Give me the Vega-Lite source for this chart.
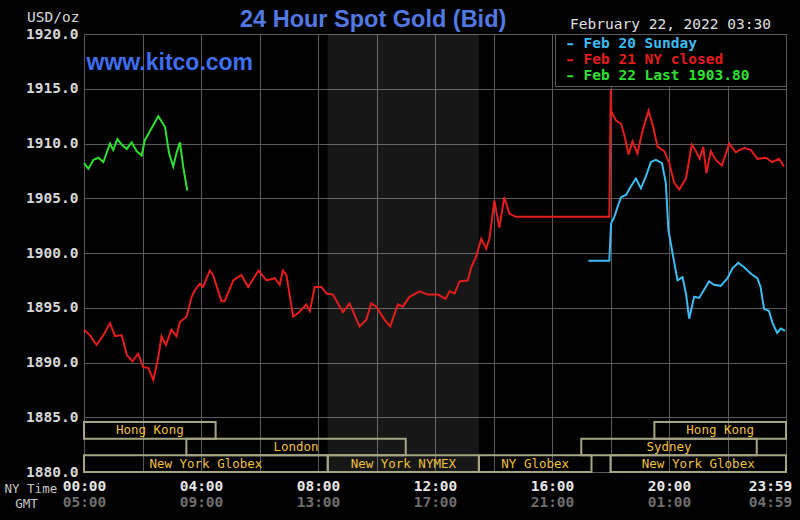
{
  "$schema": "https://vega.github.io/schema/vega-lite/v6.json",
  "width": 702,
  "height": 438,
  "autosize": "none",
  "padding": {"left": 84, "top": 34, "right": 14, "bottom": 48},
  "background": "#000000",
  "title": {"text": "24 Hour Spot Gold (Bid)", "anchor": "start", "frame": "group", "dx": 156, "dy": 26, "color": "#5278e2", "font": "Liberation Sans", "fontSize": 23.5, "fontWeight": "bold", "offset": 4},
  "config": {"view": {"stroke": null}, "axis": {"gridColor": "#5a5a5a", "gridWidth": 1, "domain": false, "ticks": false, "tickSize": 0}},
  "resolve": {"scale": {"y": "independent"}, "axis": {"x": "independent", "y": "independent"}},
  "datasets": {
    "shade": [{"session": "New York NYMEX", "start": 8.333, "end": 13.5}],
    "bands": [
      {"row": 1, "start": 0, "end": 4.5, "label": "Hong Kong"},
      {"row": 1, "start": 19.5, "end": 24, "label": "Hong Kong"},
      {"row": 2, "start": 3.5, "end": 11, "label": "London"},
      {"row": 2, "start": 17, "end": 23, "label": "Sydney"},
      {"row": 3, "start": 0, "end": 8.333, "label": "New York Globex"},
      {"row": 3, "start": 8.333, "end": 13.5, "label": "New York NYMEX"},
      {"row": 3, "start": 13.5, "end": 17.35, "label": "NY Globex"},
      {"row": 3, "start": 18, "end": 24, "label": "New York Globex"}
    ],
    "prices": [
      {"series": "Feb 22 Last 1903.80", "hour": 0.00, "price": 1908.2},
      {"series": "Feb 22 Last 1903.80", "hour": 0.15, "price": 1907.7},
      {"series": "Feb 22 Last 1903.80", "hour": 0.32, "price": 1908.5},
      {"series": "Feb 22 Last 1903.80", "hour": 0.49, "price": 1908.7},
      {"series": "Feb 22 Last 1903.80", "hour": 0.66, "price": 1908.3},
      {"series": "Feb 22 Last 1903.80", "hour": 0.89, "price": 1910.0},
      {"series": "Feb 22 Last 1903.80", "hour": 1.00, "price": 1909.4},
      {"series": "Feb 22 Last 1903.80", "hour": 1.14, "price": 1910.4},
      {"series": "Feb 22 Last 1903.80", "hour": 1.29, "price": 1909.9},
      {"series": "Feb 22 Last 1903.80", "hour": 1.46, "price": 1909.5},
      {"series": "Feb 22 Last 1903.80", "hour": 1.63, "price": 1910.1},
      {"series": "Feb 22 Last 1903.80", "hour": 1.80, "price": 1909.3},
      {"series": "Feb 22 Last 1903.80", "hour": 1.97, "price": 1908.9},
      {"series": "Feb 22 Last 1903.80", "hour": 2.08, "price": 1910.3},
      {"series": "Feb 22 Last 1903.80", "hour": 2.31, "price": 1911.4},
      {"series": "Feb 22 Last 1903.80", "hour": 2.54, "price": 1912.5},
      {"series": "Feb 22 Last 1903.80", "hour": 2.77, "price": 1911.5},
      {"series": "Feb 22 Last 1903.80", "hour": 2.91, "price": 1909.1},
      {"series": "Feb 22 Last 1903.80", "hour": 3.05, "price": 1907.9},
      {"series": "Feb 22 Last 1903.80", "hour": 3.16, "price": 1909.1},
      {"series": "Feb 22 Last 1903.80", "hour": 3.28, "price": 1910.1},
      {"series": "Feb 22 Last 1903.80", "hour": 3.39, "price": 1907.9},
      {"series": "Feb 22 Last 1903.80", "hour": 3.53, "price": 1905.7},
      {"series": "Feb 21 NY closed", "hour": 0.00, "price": 1893.0},
      {"series": "Feb 21 NY closed", "hour": 0.20, "price": 1892.5},
      {"series": "Feb 21 NY closed", "hour": 0.43, "price": 1891.6},
      {"series": "Feb 21 NY closed", "hour": 0.66, "price": 1892.5},
      {"series": "Feb 21 NY closed", "hour": 0.89, "price": 1893.6},
      {"series": "Feb 21 NY closed", "hour": 1.06, "price": 1892.4},
      {"series": "Feb 21 NY closed", "hour": 1.29, "price": 1892.5},
      {"series": "Feb 21 NY closed", "hour": 1.46, "price": 1890.7},
      {"series": "Feb 21 NY closed", "hour": 1.66, "price": 1890.1},
      {"series": "Feb 21 NY closed", "hour": 1.85, "price": 1890.8},
      {"series": "Feb 21 NY closed", "hour": 2.02, "price": 1889.6},
      {"series": "Feb 21 NY closed", "hour": 2.20, "price": 1889.5},
      {"series": "Feb 21 NY closed", "hour": 2.37, "price": 1888.4},
      {"series": "Feb 21 NY closed", "hour": 2.54, "price": 1890.5},
      {"series": "Feb 21 NY closed", "hour": 2.65, "price": 1892.4},
      {"series": "Feb 21 NY closed", "hour": 2.80, "price": 1891.6},
      {"series": "Feb 21 NY closed", "hour": 2.99, "price": 1893.0},
      {"series": "Feb 21 NY closed", "hour": 3.16, "price": 1892.4},
      {"series": "Feb 21 NY closed", "hour": 3.28, "price": 1893.7},
      {"series": "Feb 21 NY closed", "hour": 3.51, "price": 1894.2},
      {"series": "Feb 21 NY closed", "hour": 3.68, "price": 1896.0},
      {"series": "Feb 21 NY closed", "hour": 3.79, "price": 1896.6},
      {"series": "Feb 21 NY closed", "hour": 3.96, "price": 1897.2},
      {"series": "Feb 21 NY closed", "hour": 4.07, "price": 1896.9},
      {"series": "Feb 21 NY closed", "hour": 4.30, "price": 1898.4},
      {"series": "Feb 21 NY closed", "hour": 4.41, "price": 1898.0},
      {"series": "Feb 21 NY closed", "hour": 4.70, "price": 1895.6},
      {"series": "Feb 21 NY closed", "hour": 4.81, "price": 1895.6},
      {"series": "Feb 21 NY closed", "hour": 5.10, "price": 1897.5},
      {"series": "Feb 21 NY closed", "hour": 5.38, "price": 1898.0},
      {"series": "Feb 21 NY closed", "hour": 5.61, "price": 1896.9},
      {"series": "Feb 21 NY closed", "hour": 5.97, "price": 1898.4},
      {"series": "Feb 21 NY closed", "hour": 6.24, "price": 1897.5},
      {"series": "Feb 21 NY closed", "hour": 6.52, "price": 1897.7},
      {"series": "Feb 21 NY closed", "hour": 6.69, "price": 1897.1},
      {"series": "Feb 21 NY closed", "hour": 6.80, "price": 1898.4},
      {"series": "Feb 21 NY closed", "hour": 6.92, "price": 1898.0},
      {"series": "Feb 21 NY closed", "hour": 7.15, "price": 1894.2},
      {"series": "Feb 21 NY closed", "hour": 7.32, "price": 1894.5},
      {"series": "Feb 21 NY closed", "hour": 7.60, "price": 1895.3},
      {"series": "Feb 21 NY closed", "hour": 7.72, "price": 1894.7},
      {"series": "Feb 21 NY closed", "hour": 7.89, "price": 1896.9},
      {"series": "Feb 21 NY closed", "hour": 8.12, "price": 1896.9},
      {"series": "Feb 21 NY closed", "hour": 8.29, "price": 1896.3},
      {"series": "Feb 21 NY closed", "hour": 8.51, "price": 1896.2},
      {"series": "Feb 21 NY closed", "hour": 8.85, "price": 1894.6},
      {"series": "Feb 21 NY closed", "hour": 9.08, "price": 1895.4},
      {"series": "Feb 21 NY closed", "hour": 9.42, "price": 1893.3},
      {"series": "Feb 21 NY closed", "hour": 9.65, "price": 1893.9},
      {"series": "Feb 21 NY closed", "hour": 9.82, "price": 1895.4},
      {"series": "Feb 21 NY closed", "hour": 9.99, "price": 1895.1},
      {"series": "Feb 21 NY closed", "hour": 10.28, "price": 1893.9},
      {"series": "Feb 21 NY closed", "hour": 10.47, "price": 1893.3},
      {"series": "Feb 21 NY closed", "hour": 10.73, "price": 1895.3},
      {"series": "Feb 21 NY closed", "hour": 10.90, "price": 1895.1},
      {"series": "Feb 21 NY closed", "hour": 11.13, "price": 1896.0},
      {"series": "Feb 21 NY closed", "hour": 11.47, "price": 1896.5},
      {"series": "Feb 21 NY closed", "hour": 11.75, "price": 1896.2},
      {"series": "Feb 21 NY closed", "hour": 12.10, "price": 1896.2},
      {"series": "Feb 21 NY closed", "hour": 12.36, "price": 1895.8},
      {"series": "Feb 21 NY closed", "hour": 12.50, "price": 1896.5},
      {"series": "Feb 21 NY closed", "hour": 12.67, "price": 1896.3},
      {"series": "Feb 21 NY closed", "hour": 12.84, "price": 1897.4},
      {"series": "Feb 21 NY closed", "hour": 13.12, "price": 1897.5},
      {"series": "Feb 21 NY closed", "hour": 13.24, "price": 1898.7},
      {"series": "Feb 21 NY closed", "hour": 13.41, "price": 1899.7},
      {"series": "Feb 21 NY closed", "hour": 13.58, "price": 1901.3},
      {"series": "Feb 21 NY closed", "hour": 13.75, "price": 1900.4},
      {"series": "Feb 21 NY closed", "hour": 13.86, "price": 1901.3},
      {"series": "Feb 21 NY closed", "hour": 14.03, "price": 1904.8},
      {"series": "Feb 21 NY closed", "hour": 14.20, "price": 1902.3},
      {"series": "Feb 21 NY closed", "hour": 14.37, "price": 1905.1},
      {"series": "Feb 21 NY closed", "hour": 14.54, "price": 1903.6},
      {"series": "Feb 21 NY closed", "hour": 14.77, "price": 1903.3},
      {"series": "Feb 21 NY closed", "hour": 17.96, "price": 1903.3},
      {"series": "Feb 21 NY closed", "hour": 18.01, "price": 1914.9},
      {"series": "Feb 21 NY closed", "hour": 18.03, "price": 1912.9},
      {"series": "Feb 21 NY closed", "hour": 18.19, "price": 1912.1},
      {"series": "Feb 21 NY closed", "hour": 18.36, "price": 1911.8},
      {"series": "Feb 21 NY closed", "hour": 18.47, "price": 1910.8},
      {"series": "Feb 21 NY closed", "hour": 18.62, "price": 1909.0},
      {"series": "Feb 21 NY closed", "hour": 18.75, "price": 1910.2},
      {"series": "Feb 21 NY closed", "hour": 18.92, "price": 1909.1},
      {"series": "Feb 21 NY closed", "hour": 19.10, "price": 1911.2},
      {"series": "Feb 21 NY closed", "hour": 19.30, "price": 1913.0},
      {"series": "Feb 21 NY closed", "hour": 19.46, "price": 1911.5},
      {"series": "Feb 21 NY closed", "hour": 19.61, "price": 1909.7},
      {"series": "Feb 21 NY closed", "hour": 19.84, "price": 1909.3},
      {"series": "Feb 21 NY closed", "hour": 20.01, "price": 1908.2},
      {"series": "Feb 21 NY closed", "hour": 20.18, "price": 1906.4},
      {"series": "Feb 21 NY closed", "hour": 20.35, "price": 1905.8},
      {"series": "Feb 21 NY closed", "hour": 20.58, "price": 1906.8},
      {"series": "Feb 21 NY closed", "hour": 20.78, "price": 1909.9},
      {"series": "Feb 21 NY closed", "hour": 20.92, "price": 1909.3},
      {"series": "Feb 21 NY closed", "hour": 21.05, "price": 1908.6},
      {"series": "Feb 21 NY closed", "hour": 21.17, "price": 1909.7},
      {"series": "Feb 21 NY closed", "hour": 21.28, "price": 1907.3},
      {"series": "Feb 21 NY closed", "hour": 21.43, "price": 1909.3},
      {"series": "Feb 21 NY closed", "hour": 21.60, "price": 1908.5},
      {"series": "Feb 21 NY closed", "hour": 21.81, "price": 1908.0},
      {"series": "Feb 21 NY closed", "hour": 22.06, "price": 1910.0},
      {"series": "Feb 21 NY closed", "hour": 22.28, "price": 1909.2},
      {"series": "Feb 21 NY closed", "hour": 22.57, "price": 1909.6},
      {"series": "Feb 21 NY closed", "hour": 22.80, "price": 1909.4},
      {"series": "Feb 21 NY closed", "hour": 23.02, "price": 1908.6},
      {"series": "Feb 21 NY closed", "hour": 23.31, "price": 1908.7},
      {"series": "Feb 21 NY closed", "hour": 23.53, "price": 1908.3},
      {"series": "Feb 21 NY closed", "hour": 23.76, "price": 1908.6},
      {"series": "Feb 21 NY closed", "hour": 23.93, "price": 1907.9},
      {"series": "Feb 20 Sunday", "hour": 17.24, "price": 1899.3},
      {"series": "Feb 20 Sunday", "hour": 17.96, "price": 1899.3},
      {"series": "Feb 20 Sunday", "hour": 18.02, "price": 1902.7},
      {"series": "Feb 20 Sunday", "hour": 18.13, "price": 1903.3},
      {"series": "Feb 20 Sunday", "hour": 18.24, "price": 1904.2},
      {"series": "Feb 20 Sunday", "hour": 18.36, "price": 1905.1},
      {"series": "Feb 20 Sunday", "hour": 18.53, "price": 1905.3},
      {"series": "Feb 20 Sunday", "hour": 18.70, "price": 1906.1},
      {"series": "Feb 20 Sunday", "hour": 18.87, "price": 1906.8},
      {"series": "Feb 20 Sunday", "hour": 19.04, "price": 1905.9},
      {"series": "Feb 20 Sunday", "hour": 19.21, "price": 1907.0},
      {"series": "Feb 20 Sunday", "hour": 19.38, "price": 1908.3},
      {"series": "Feb 20 Sunday", "hour": 19.55, "price": 1908.5},
      {"series": "Feb 20 Sunday", "hour": 19.76, "price": 1908.2},
      {"series": "Feb 20 Sunday", "hour": 19.89, "price": 1906.4},
      {"series": "Feb 20 Sunday", "hour": 19.98, "price": 1902.1},
      {"series": "Feb 20 Sunday", "hour": 20.12, "price": 1900.0},
      {"series": "Feb 20 Sunday", "hour": 20.29, "price": 1897.5},
      {"series": "Feb 20 Sunday", "hour": 20.46, "price": 1897.8},
      {"series": "Feb 20 Sunday", "hour": 20.58, "price": 1896.3},
      {"series": "Feb 20 Sunday", "hour": 20.69, "price": 1894.0},
      {"series": "Feb 20 Sunday", "hour": 20.86, "price": 1896.0},
      {"series": "Feb 20 Sunday", "hour": 21.03, "price": 1895.9},
      {"series": "Feb 20 Sunday", "hour": 21.37, "price": 1897.4},
      {"series": "Feb 20 Sunday", "hour": 21.54, "price": 1897.1},
      {"series": "Feb 20 Sunday", "hour": 21.77, "price": 1897.0},
      {"series": "Feb 20 Sunday", "hour": 22.00, "price": 1897.7},
      {"series": "Feb 20 Sunday", "hour": 22.17, "price": 1898.6},
      {"series": "Feb 20 Sunday", "hour": 22.37, "price": 1899.1},
      {"series": "Feb 20 Sunday", "hour": 22.57, "price": 1898.7},
      {"series": "Feb 20 Sunday", "hour": 22.80, "price": 1898.1},
      {"series": "Feb 20 Sunday", "hour": 23.02, "price": 1897.7},
      {"series": "Feb 20 Sunday", "hour": 23.13, "price": 1896.9},
      {"series": "Feb 20 Sunday", "hour": 23.25, "price": 1894.9},
      {"series": "Feb 20 Sunday", "hour": 23.42, "price": 1894.7},
      {"series": "Feb 20 Sunday", "hour": 23.54, "price": 1893.6},
      {"series": "Feb 20 Sunday", "hour": 23.70, "price": 1892.7},
      {"series": "Feb 20 Sunday", "hour": 23.82, "price": 1893.1},
      {"series": "Feb 20 Sunday", "hour": 23.97, "price": 1892.9}
    ]
  },
  "layer": [
    {
      "data": {"name": "shade"},
      "mark": {"type": "rect", "fill": "#ffffff", "fillOpacity": 0.09},
      "encoding": {
        "x": {
          "field": "start", "type": "quantitative",
          "scale": {"domain": [0, 24], "nice": false, "zero": false},
          "axis": {
            "orient": "bottom", "values": [0, 2, 4, 6, 8, 10, 12, 14, 16, 18, 20, 22, 24], "grid": true,
            "labelExpr": "datum.value == 24 ? '23:59' : (datum.value % 4 == 0 ? (datum.value < 10 ? '0' : '') + datum.value + ':00' : '')",
            "labelColor": "#e6e6e6", "labelFont": "DejaVu Sans Mono", "labelFontSize": 14.5, "labelFontWeight": "bold",
            "labelPadding": 7, "labelOverlap": false, "labelBound": false, "labelFlush": false,
            "labelOffset": {"condition": {"test": "datum.value == 24", "value": -16}, "value": 0},
            "title": "NY Time", "titleX": -80, "titleY": 16, "titleAlign": "left", "titleBaseline": "middle", "titleAngle": 0,
            "titleColor": "#c8c8c8", "titleFont": "DejaVu Sans Mono", "titleFontSize": 12.5, "titleFontWeight": "normal"
          }
        },
        "x2": {"field": "end"}
      }
    },
    {
      "data": {"name": "bands"},
      "mark": {"type": "rect", "fill": "#000000", "fillOpacity": 0, "stroke": "#a5a582", "strokeWidth": 2},
      "encoding": {
        "x": {
          "field": "start", "type": "quantitative",
          "axis": {
            "orient": "top", "labels": false, "grid": false,
            "title": "February 22, 2022 03:30", "titleX": 586, "titleY": -10, "titleAlign": "center", "titleBaseline": "middle", "titleAngle": 0,
            "titleColor": "#e0e0e0", "titleFont": "DejaVu Sans Mono", "titleFontSize": 14.5, "titleFontWeight": "normal"
          }
        },
        "x2": {"field": "end"},
        "y": {
          "field": "row", "type": "ordinal",
          "scale": {"domain": [1, 2, 3], "range": [388, 438], "paddingInner": 0, "paddingOuter": 0},
          "axis": {
            "orient": "left", "labels": false, "grid": false,
            "title": "www.kitco.com", "titleX": 2, "titleY": 28, "titleAlign": "left", "titleBaseline": "middle", "titleAngle": 0,
            "titleColor": "#3f6ff0", "titleFont": "Liberation Sans", "titleFontSize": 23, "titleFontWeight": "bold"
          }
        }
      }
    },
    {
      "data": {"name": "bands"},
      "transform": [{"calculate": "(datum.start + datum.end) / 2", "as": "mid"}],
      "mark": {"type": "text", "color": "#f0c23c", "font": "DejaVu Sans Mono", "fontSize": 12.5, "baseline": "middle", "align": "center"},
      "encoding": {
        "x": {"field": "mid", "type": "quantitative", "axis": null},
        "y": {"field": "row", "type": "ordinal", "scale": {"domain": [1, 2, 3], "range": [388, 438], "paddingInner": 0, "paddingOuter": 0}, "axis": null},
        "text": {"field": "label"}
      }
    },
    {
      "data": {"name": "prices"},
      "mark": {"type": "line", "strokeWidth": 2},
      "encoding": {
        "x": {
          "field": "hour", "type": "quantitative",
          "axis": {
            "orient": "bottom", "values": [0, 4, 8, 12, 16, 20, 24], "grid": false,
            "labelExpr": "datum.value == 24 ? '04:59' : (((datum.value + 5) % 24) < 10 ? '0' : '') + ((datum.value + 5) % 24) + ':00'",
            "labelColor": "#6e6e6e", "labelFont": "DejaVu Sans Mono", "labelFontSize": 14.5, "labelFontWeight": "bold",
            "labelPadding": 23, "labelOverlap": false, "labelBound": false, "labelFlush": false,
            "labelOffset": {"condition": {"test": "datum.value == 24", "value": -16}, "value": 0},
            "title": "GMT", "titleX": -58, "titleY": 31, "titleAlign": "center", "titleBaseline": "middle", "titleAngle": 0,
            "titleColor": "#c8c8c8", "titleFont": "DejaVu Sans Mono", "titleFontSize": 12.5, "titleFontWeight": "normal"
          }
        },
        "y": {
          "field": "price", "type": "quantitative",
          "scale": {"domain": [1880, 1920], "nice": false, "zero": false},
          "axis": {
            "orient": "left", "values": [1880, 1885, 1890, 1895, 1900, 1905, 1910, 1915, 1920], "grid": true, "format": ".1f",
            "labelColor": "#d8d8d8", "labelFont": "DejaVu Sans Mono", "labelFontSize": 14.5, "labelFontWeight": "bold",
            "labelPadding": 6, "labelBaseline": "middle",
            "title": "USD/oz", "titleX": -5, "titleY": -17, "titleAlign": "right", "titleBaseline": "middle", "titleAngle": 0,
            "titleColor": "#d8d8d8", "titleFont": "DejaVu Sans Mono", "titleFontSize": 14.5, "titleFontWeight": "normal"
          }
        },
        "color": {
          "field": "series", "type": "nominal",
          "scale": {"domain": ["Feb 20 Sunday", "Feb 21 NY closed", "Feb 22 Last 1903.80"], "range": ["#3cbcf0", "#e41c1c", "#2ee02e"]},
          "legend": {
            "title": null, "orient": "top-right", "offset": 0, "fillColor": "#000000", "strokeColor": "#5a5a5a", "padding": 3,
            "symbolType": "stroke", "symbolSize": 36, "symbolStrokeWidth": 2, "symbolOffset": 5,
            "labelFont": "DejaVu Sans Mono", "labelFontSize": 14.5, "labelFontWeight": "bold", "labelOffset": 6, "rowPadding": 1,
            "labelLimit": 400, "labelExpr": "datum.label + '\u2800\u2800\u2800'",
            "encode": {"labels": {"update": {"fill": {"scale": "color", "field": "value"}}}}
          }
        }
      }
    }
  ]
}
